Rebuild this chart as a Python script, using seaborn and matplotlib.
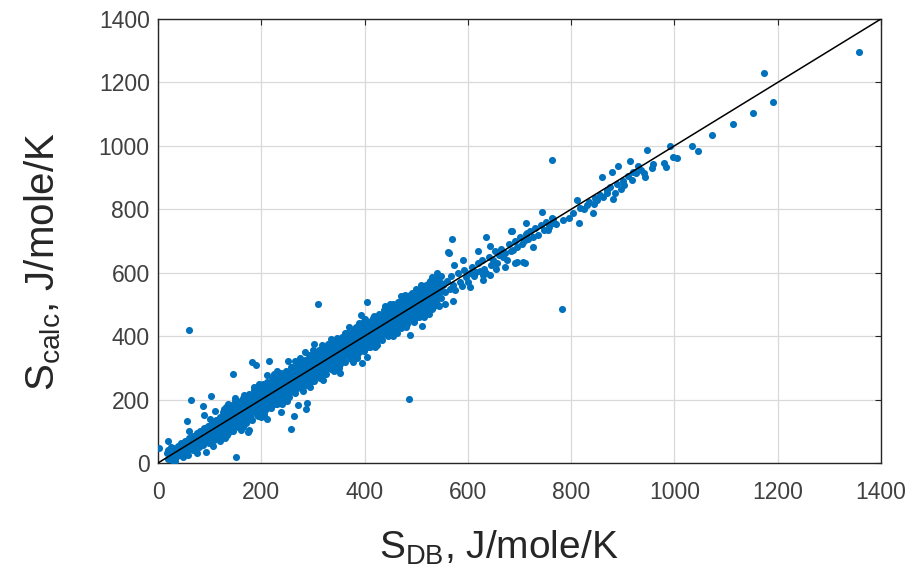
import pandas as pd
import seaborn as sns
import matplotlib.pyplot as plt

# ------------------------------
# Data (S_DB, S_calc), J/mole/K
# ------------------------------
band_low = [(18, 30), (20, 12), (22, 42), (25, 24), (28, 8), (30, 48), (32, 30), (35, 18),
            (38, 55), (40, 36), (42, 24), (45, 62), (47, 42), (50, 30), (52, 70), (55, 48),
            (57, 36), (60, 78), (62, 56), (65, 44), (67, 86), (70, 62), (72, 52), (75, 94),
            (77, 70), (80, 58), (82, 102), (85, 76), (87, 66), (90, 110), (92, 84), (95, 72),
            (97, 118), (100, 92), (102, 80), (105, 128), (107, 98), (110, 86), (112, 136),
            (115, 106), (117, 92), (120, 146), (122, 112), (124, 98),
            (20, 40), (26, 50), (33, 6), (36, 44), (44, 50), (48, 20), (54, 60), (58, 26),
            (63, 70), (68, 40), (74, 80), (79, 50), (84, 92), (88, 56), (94, 100), (99, 64),
            (104, 112), (109, 74), (114, 120), (119, 84), (123, 130)]

band_mid = [(125, 93), (125, 115), (125, 137), (125, 161), (131, 109), (131, 127), (131, 155), (131, 177),
            (137, 97), (137, 121), (137, 143), (137, 165), (143, 111), (143, 133), (143, 155), (143, 179),
            (149, 127), (149, 145), (149, 173), (149, 195), (155, 115), (155, 139), (155, 161), (155, 183),
            (161, 129), (161, 151), (161, 173), (161, 197), (167, 145), (167, 163), (167, 191), (167, 213),
            (173, 133), (173, 157), (173, 179), (173, 201), (179, 147), (179, 169), (179, 191), (179, 215),
            (185, 163), (185, 181), (185, 209), (185, 231), (191, 151), (191, 175), (191, 197), (191, 219),
            (197, 165), (197, 187), (197, 209), (197, 233), (203, 181), (203, 199), (203, 227), (203, 249),
            (209, 169), (209, 193), (209, 215), (209, 237), (215, 183), (215, 205), (215, 227), (215, 251),
            (221, 199), (221, 217), (221, 245), (221, 267), (227, 187), (227, 211), (227, 233), (227, 255),
            (233, 201), (233, 223), (233, 245), (233, 269), (239, 217), (239, 235), (239, 263), (239, 285),
            (245, 205), (245, 229), (245, 251), (245, 273), (251, 219), (251, 241), (251, 263), (251, 287),
            (257, 235), (257, 253), (257, 281), (257, 303), (263, 223), (263, 247), (263, 269), (263, 291),
            (269, 237), (269, 259), (269, 281), (269, 305), (275, 253), (275, 271), (275, 299), (275, 321),
            (281, 241), (281, 265), (281, 287), (281, 309), (287, 255), (287, 277), (287, 299), (287, 323),
            (293, 271), (293, 289), (293, 317), (293, 339), (299, 259), (299, 283), (299, 305), (299, 327),
            (305, 273), (305, 295), (305, 317), (305, 341), (311, 289), (311, 307), (311, 335), (311, 357),
            (317, 277), (317, 301), (317, 323), (317, 345), (323, 291), (323, 313), (323, 335), (323, 359),
            (329, 307), (329, 325), (329, 353), (329, 375)]

band_high = [(335, 295), (335, 319), (335, 341), (335, 363), (341, 309), (341, 331), (341, 353), (341, 377),
             (347, 325), (347, 343), (347, 371), (347, 393), (353, 313), (353, 337), (353, 359), (353, 381),
             (359, 327), (359, 349), (359, 371), (359, 395), (365, 343), (365, 361), (365, 389), (365, 411),
             (371, 331), (371, 355), (371, 377), (371, 399), (377, 345), (377, 367), (377, 389), (377, 413),
             (383, 361), (383, 379), (383, 407), (383, 429), (389, 349), (389, 373), (389, 395), (389, 417),
             (395, 363), (395, 385), (395, 407), (395, 431), (401, 379), (401, 397), (401, 425), (401, 447),
             (407, 367), (407, 391), (407, 413), (407, 435), (413, 381), (413, 403), (413, 425), (413, 449),
             (419, 397), (419, 415), (419, 443), (419, 465), (425, 385), (425, 409), (425, 431), (425, 453),
             (431, 399), (431, 421), (431, 443), (431, 467), (437, 415), (437, 433), (437, 461), (437, 483),
             (443, 403), (443, 427), (443, 449), (443, 471), (449, 417), (449, 439), (449, 461), (449, 485),
             (455, 433), (455, 451), (455, 479), (455, 501), (461, 421), (461, 445), (461, 467), (461, 489),
             (467, 435), (467, 457), (467, 479), (467, 503), (473, 451), (473, 469), (473, 497), (473, 519),
             (479, 439), (479, 463), (479, 485), (479, 507), (485, 453), (485, 475), (485, 497), (485, 521),
             (491, 469), (491, 487), (491, 515), (491, 537), (497, 457), (497, 481), (497, 503), (497, 525),
             (503, 471), (503, 493), (503, 515), (503, 539), (509, 487), (509, 505), (509, 533), (509, 555),
             (515, 475), (515, 499), (515, 521), (515, 543), (521, 489), (521, 511), (521, 533), (521, 557),
             (527, 505), (527, 523), (527, 551), (527, 573), (533, 493), (533, 517), (533, 539), (533, 561),
             (539, 507), (539, 529), (539, 551), (539, 575), (545, 523), (545, 541), (545, 569), (545, 591)]

band_fill = [(128, 100), (128, 122), (128, 146), (128, 170), (134, 89), (134, 116), (134, 142), (134, 164),
             (140, 112), (140, 134), (140, 158), (140, 182), (146, 101), (146, 128), (146, 154), (146, 176),
             (152, 124), (152, 146), (152, 170), (152, 194), (158, 113), (158, 140), (158, 166), (158, 188),
             (164, 136), (164, 158), (164, 182), (164, 206), (170, 125), (170, 152), (170, 178), (170, 200),
             (176, 148), (176, 170), (176, 194), (176, 218), (182, 137), (182, 164), (182, 190), (182, 212),
             (188, 160), (188, 182), (188, 206), (188, 230), (194, 149), (194, 176), (194, 202), (194, 224),
             (200, 172), (200, 194), (200, 218), (200, 242), (206, 161), (206, 188), (206, 214), (206, 236),
             (212, 184), (212, 206), (212, 230), (212, 254), (218, 173), (218, 200), (218, 226), (218, 248),
             (224, 196), (224, 218), (224, 242), (224, 266), (230, 185), (230, 212), (230, 238), (230, 260),
             (236, 208), (236, 230), (236, 254), (236, 278), (242, 197), (242, 224), (242, 250), (242, 272),
             (248, 220), (248, 242), (248, 266), (248, 290), (254, 209), (254, 236), (254, 262), (254, 284),
             (260, 232), (260, 254), (260, 278), (260, 302), (266, 221), (266, 248), (266, 274), (266, 296),
             (272, 244), (272, 266), (272, 290), (272, 314), (278, 233), (278, 260), (278, 286), (278, 308),
             (284, 256), (284, 278), (284, 302), (284, 326), (290, 245), (290, 272), (290, 298), (290, 320),
             (296, 268), (296, 290), (296, 314), (296, 338), (302, 257), (302, 284), (302, 310), (302, 332),
             (308, 280), (308, 302), (308, 326), (308, 350), (314, 269), (314, 296), (314, 322), (314, 344),
             (320, 292), (320, 314), (320, 338), (320, 362), (326, 281), (326, 308), (326, 334), (326, 356),
             (332, 304), (332, 326), (332, 350), (332, 374), (338, 293), (338, 320), (338, 346), (338, 368),
             (344, 316), (344, 338), (344, 362), (344, 386), (350, 305), (350, 332), (350, 358), (350, 380),
             (356, 328), (356, 350), (356, 374), (356, 398), (362, 317), (362, 344), (362, 370), (362, 392),
             (368, 340), (368, 362), (368, 386), (368, 410), (374, 329), (374, 356), (374, 382), (374, 404),
             (380, 352), (380, 374), (380, 398), (380, 422), (386, 341), (386, 368), (386, 394), (386, 416),
             (392, 364), (392, 386), (392, 410), (392, 434), (398, 353), (398, 380), (398, 406), (398, 428),
             (404, 376), (404, 398), (404, 422), (404, 446), (410, 365), (410, 392), (410, 418), (410, 440),
             (416, 388), (416, 410), (416, 434), (416, 458), (422, 377), (422, 404), (422, 430), (422, 452),
             (428, 400), (428, 422), (428, 446), (428, 470), (434, 389), (434, 416), (434, 442), (434, 464),
             (440, 412), (440, 434), (440, 458), (440, 482), (446, 401), (446, 428), (446, 454), (446, 476),
             (452, 424), (452, 446), (452, 470), (452, 494), (458, 413), (458, 440), (458, 466), (458, 488),
             (464, 436), (464, 458), (464, 482), (464, 506), (470, 425), (470, 452), (470, 478), (470, 500),
             (476, 448), (476, 470), (476, 494), (476, 518), (482, 437), (482, 464), (482, 490), (482, 512),
             (488, 460), (488, 482), (488, 506), (488, 530), (494, 449), (494, 476), (494, 502), (494, 524),
             (500, 472), (500, 494), (500, 518), (500, 542), (506, 461), (506, 488), (506, 514), (506, 536),
             (512, 484), (512, 506), (512, 530), (512, 554), (518, 473), (518, 500), (518, 526), (518, 548),
             (524, 496), (524, 518), (524, 542), (524, 566), (530, 485), (530, 512), (530, 538), (530, 560),
             (536, 508), (536, 530), (536, 554), (536, 578), (542, 497), (542, 524), (542, 550), (542, 572),
             (548, 520), (548, 542), (548, 566), (548, 590)]

band_edges = [(110, 165), (130, 80), (150, 205), (165, 115), (195, 250), (205, 150), (230, 290),
              (240, 185), (265, 320), (280, 228), (300, 355), (320, 262), (335, 392), (350, 298),
              (370, 430), (385, 330), (400, 455), (420, 365), (440, 495), (455, 400), (470, 525),
              (480, 430), (500, 550), (515, 460), (530, 585), (545, 495),
              (60, 100), (75, 30), (100, 140), (120, 70), (135, 185), (160, 105), (185, 240),
              (200, 145), (225, 282), (250, 195), (275, 330), (295, 240), (318, 372), (340, 290),
              (362, 410), (378, 318), (398, 448), (425, 372), (450, 500), (462, 410), (478, 530),
              (495, 445), (510, 560), (525, 470), (540, 598), (555, 500), (590, 640), (605, 555),
              (620, 668), (655, 612)]

sparse_mid = [(552, 560), (556, 540), (560, 575), (565, 548), (568, 590), (572, 560), (576, 545),
              (580, 600), (584, 572), (588, 558), (592, 610), (596, 585), (600, 570), (604, 598),
              (608, 618), (612, 590), (616, 602), (620, 630), (624, 605), (628, 640), (632, 612),
              (636, 600), (640, 650), (644, 625), (648, 640), (652, 668), (656, 630), (660, 655),
              (664, 676), (668, 650), (672, 662), (676, 640), (680, 690), (684, 668), (688, 672),
              (692, 700), (696, 680), (700, 712), (704, 690), (708, 700), (712, 722), (716, 705),
              (720, 730), (726, 712), (730, 740), (736, 720), (742, 750), (748, 735), (752, 760),
              (758, 745), (764, 770), (770, 752)]

sparse_high = [(672, 618), (691, 631), (711, 631), (726, 681), (714, 725), (685, 731), (712, 757),
               (755, 735), (765, 757), (763, 772), (743, 791), (784, 766), (796, 772), (803, 788),
               (815, 757), (817, 804), (811, 829), (842, 788), (844, 817), (846, 836), (862, 839),
               (881, 832), (885, 851), (869, 861), (896, 864), (902, 877), (918, 892), (920, 918),
               (891, 936), (879, 918), (860, 902), (914, 952), (943, 902), (941, 914), (956, 930),
               (958, 943), (983, 933), (980, 946), (947, 987), (997, 965), (1005, 962), (991, 999),
               (1034, 999), (1045, 984), (1073, 1034), (1113, 1069), (1152, 1104), (1191, 1138),
               (1173, 1230), (1357, 1296), (825, 800), (830, 812), (835, 822), (850, 830),
               (855, 845), (870, 850), (875, 870), (888, 880), (900, 890), (910, 905), (925, 915),
               (930, 935), (935, 925)]

outliers = [(2, 48), (60, 418), (151, 20), (486, 203), (310, 500), (404, 507), (393, 467), (389, 441),
            (64, 199), (103, 211), (87, 180), (89, 151), (56, 132), (19, 69), (93, 35), (145, 281),
            (182, 318), (190, 309), (215, 322), (211, 277), (252, 322), (285, 350), (302, 375),
            (257, 107), (263, 148), (288, 189), (271, 183), (238, 161), (211, 139), (174, 98),
            (395, 315), (404, 334), (352, 284), (488, 404), (511, 432), (519, 561), (571, 511),
            (523, 473), (643, 593), (630, 577), (563, 662), (573, 624), (569, 706), (562, 665),
            (635, 713), (643, 684), (683, 731), (695, 634), (707, 634), (629, 593), (521, 558),
            (106, 54), (176, 104), (287, 170), (763, 955), (782, 486)]

parity_x = [0, 1400]
parity_y = [0, 1400]
ticks = [0, 200, 400, 600, 800, 1000, 1200, 1400]

# ------------------------------
# Build table
# ------------------------------
pts = band_low + band_mid + band_high + band_fill + band_edges + sparse_mid + sparse_high + outliers
df = pd.DataFrame(pts, columns=["S_DB", "S_calc"])

# ------------------------------
# Plot
# ------------------------------
sns.set_style("white")
plt.rcParams['font.family'] = ['Liberation Sans', 'DejaVu Sans']
plt.rcParams['mathtext.default'] = 'regular'

fig = plt.figure(figsize=(9.24, 5.74), dpi=100)
ax = fig.add_axes([0.171, 0.1934, 0.7825, 0.7736])

sns.scatterplot(data=df, x="S_DB", y="S_calc", color="#0072BD", s=26,
                linewidth=0, ax=ax, zorder=3)
sns.lineplot(x=parity_x, y=parity_y, color="black", linewidth=1.1, ax=ax, zorder=4)

ax.set_xlim(0, 1400)
ax.set_ylim(0, 1400)
ax.set_xticks(ticks)
ax.set_yticks(ticks)
ax.grid(True, color="#d9d9d9", linewidth=0.9)
ax.set_axisbelow(True)
ax.tick_params(direction="in", length=4, width=0.8, colors="#262626",
               labelcolor="#404040", labelsize=16.5, top=True, right=True)
ax.tick_params(axis="x", pad=13)
ax.tick_params(axis="y", pad=6)
for sp in ax.spines.values():
    sp.set_color("#262626")
    sp.set_linewidth(1.0)

ax.set_xlabel("S$_{DB}$, J/mole/K", fontsize=28, color="#262626", va="center")
ax.set_ylabel("S$_{calc}$, J/mole/K", fontsize=29, color="#262626", va="center")
ax.xaxis.set_label_coords(0.472, -0.191)
ax.yaxis.set_label_coords(-0.160, 0.453)

fig.savefig("out.png", dpi=100)
